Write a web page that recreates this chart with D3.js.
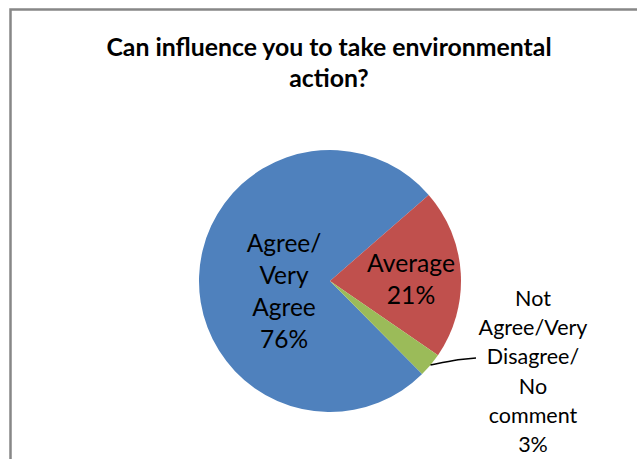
<!DOCTYPE html>
<html><head><meta charset="utf-8">
<script src="https://cdn.jsdelivr.net/npm/d3@7"></script>
<style>html,body{margin:0;padding:0;background:#fff;}</style>
</head><body>
<script>
const titleLines = ["Can influence you to take environmental", "action?"];
const categories = ["Agree/Very Agree", "Average", "Not Agree/Very Disagree/No comment"];
const values = [76, 21, 3];
const labelLines = [["Agree/", "Very", "Agree", "76%"], ["Average", "21%"], ["Not", "Agree/Very", "Disagree/", "No", "comment", "3%"]];
const colors = ["#4F81BD", "#C0504D", "#9BBB59"];

const W = 637, H = 459;
const svg = d3.select("body").append("svg").attr("width", W).attr("height", H);
svg.append("rect").attr("width", W).attr("height", H).attr("fill", "#fff");
svg.append("rect").attr("x", 10.5).attr("y", 9.5).attr("width", W + 20).attr("height", H + 20)
  .attr("fill", "none").attr("stroke", "#878787").attr("stroke-width", 2.5);

const font = "Lato, 'Open Sans', sans-serif";
svg.append("g").selectAll("text").data(titleLines).join("text")
  .attr("x", 329).attr("y", (d, i) => 56 + i * 31)
  .attr("text-anchor", "middle").attr("font-family", font).attr("font-weight", "bold")
  .attr("font-size", 24.8).attr("fill", "#000").text(d => d);

const cx = 330, cy = 281, r = 131;
const start = 135.3 * Math.PI / 180;
const pie = d3.pie().sort(null).startAngle(start).endAngle(start + 2 * Math.PI);
const arcs = pie(values);
const arc = d3.arc().innerRadius(0).outerRadius(r);
const g = svg.append("g").attr("transform", `translate(${cx},${cy})`);
g.selectAll("path").data(arcs).join("path").attr("d", arc)
  .attr("fill", (d, i) => colors[i]);

const labelPos = [
  {x: 284, y: 252, size: 24.5, lh: 32},
  {x: 411, y: 272, size: 24.7, lh: 32},
  {x: 533, y: 306, size: 21.5, lh: 29.2}
];
labelLines.forEach((lines, k) => {
  const p = labelPos[k];
  svg.append("g").selectAll("text").data(lines).join("text")
    .attr("x", p.x).attr("y", (d, i) => p.y + i * p.lh)
    .attr("text-anchor", "middle").attr("font-family", font)
    .attr("font-size", p.size).attr("fill", "#000").text(d => d);
});

// leader line for small slice
const mid = (arcs[2].startAngle + arcs[2].endAngle) / 2;
const edge = [cx + Math.sin(mid) * r, cy - Math.cos(mid) * r];
svg.append("path")
  .attr("d", d3.line().curve(d3.curveBasis)([edge, [edge[0] + 30, 359], [476, 358]]))
  .attr("fill", "none").attr("stroke", "#000").attr("stroke-width", 1.5);
</script>
</body></html>
